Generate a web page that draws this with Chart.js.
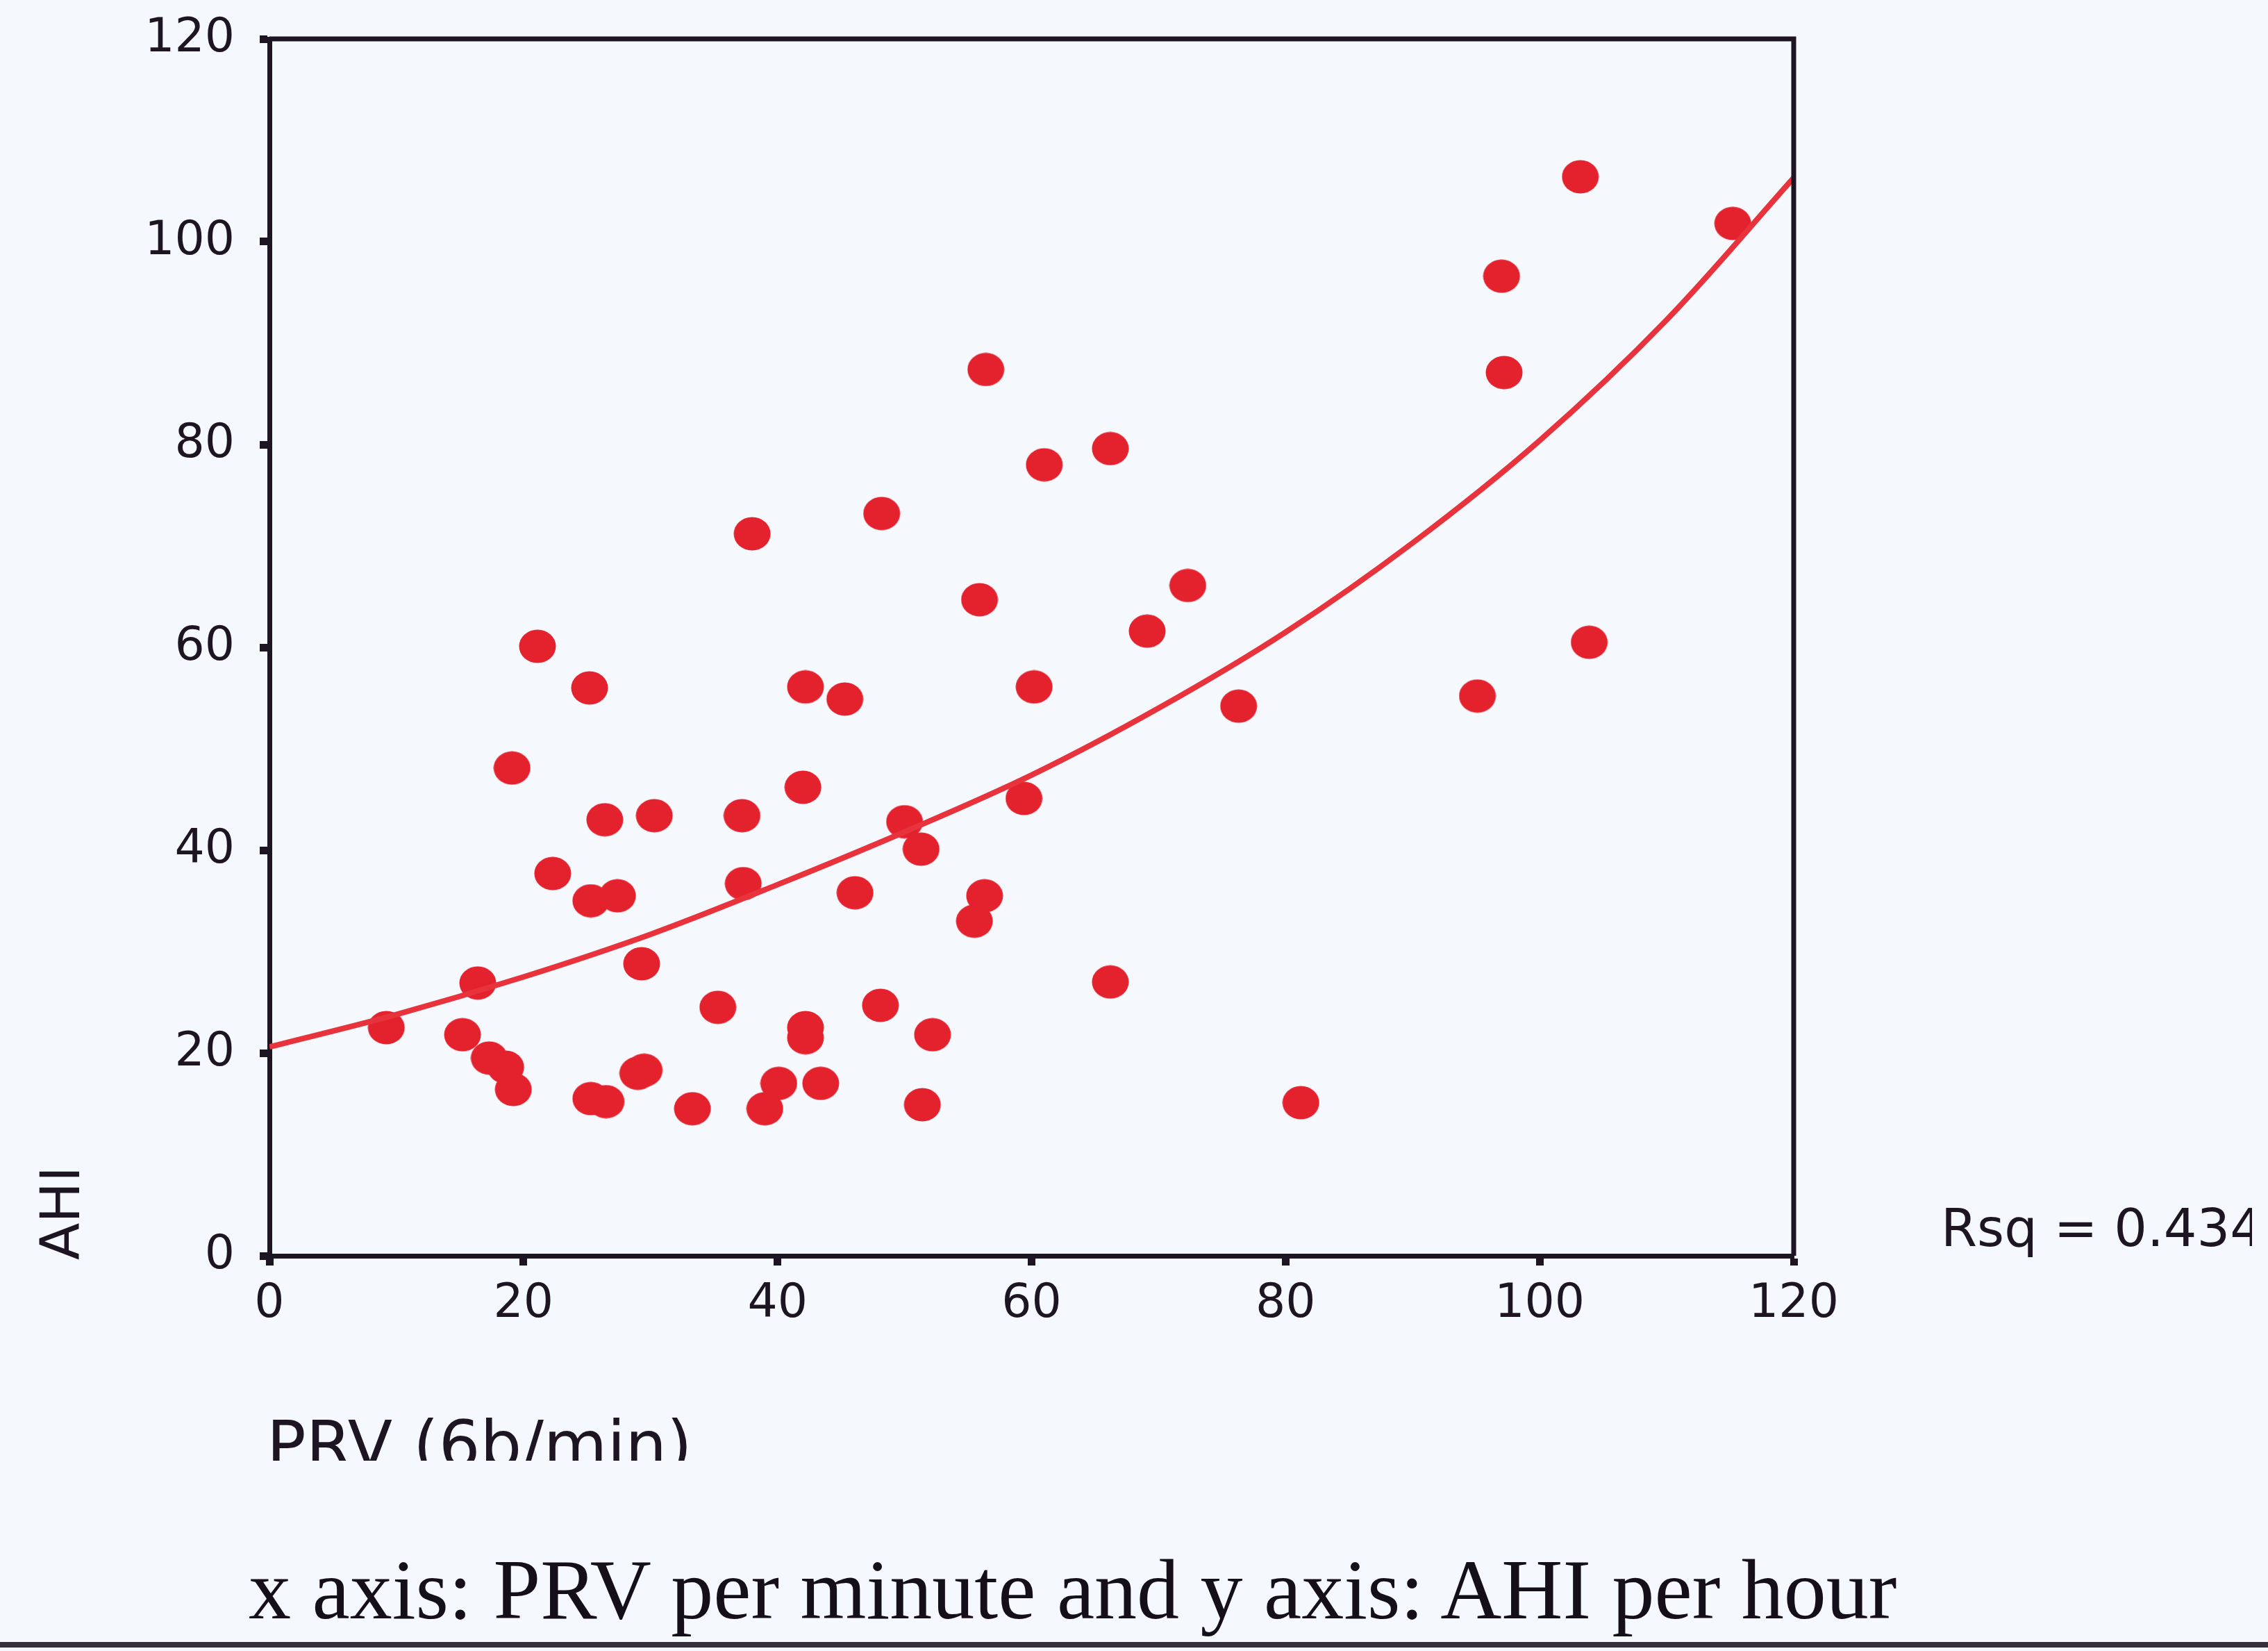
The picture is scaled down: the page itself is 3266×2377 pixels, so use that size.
<!DOCTYPE html>
<html>
<head>
<meta charset="utf-8">
<title>AHI vs PRV</title>
<script src="https://cdn.jsdelivr.net/npm/chart.js@4/dist/chart.umd.min.js"></script>
<style>
  html, body { margin: 0; padding: 0; background: #f5f8fc; }
  #wrap { position: relative; width: 3266px; height: 2377px; overflow: hidden; }
  #chart { position: absolute; left: 0; top: 0; }
  #caption {
    position: absolute; left: 358px; top: 2228px;
    font: 122px "Liberation Serif", "Times New Roman", serif; line-height: 1;
    color: #150f1a; white-space: nowrap;
  }
  #rule { position: absolute; left: 0; top: 2364px; width: 3266px; height: 8px; background: #37303c; }
</style>
</head>
<body>
<div id="wrap">
  <canvas id="chart" width="3266" height="2103"></canvas>
  <div id="caption">x axis: PRV per minute and y axis: AHI per hour</div>
  <div id="rule"></div>
</div>
<script>
// PRV (x) and AHI (y) for each patient
const prvValues = [9.2, 15.2, 16.4, 17.3, 18.6, 19.2, 19.1, 21.1, 22.3, 25.2, 25.3, 27.4, 26.4, 25.3, 26.5,
  29.0, 29.5, 29.3, 30.3, 33.3, 35.3, 37.2, 37.3, 38.0, 39.0, 40.1, 42.2, 42.2, 42.2, 42.0,
  43.4, 45.3, 46.1, 48.1, 48.2, 50.0, 51.3, 51.4, 52.2, 55.9, 55.5, 56.3, 56.4, 59.4, 60.2,
  61.0, 66.2, 66.2, 69.1, 72.3, 76.3, 81.2, 95.1, 97.0, 97.2, 103.2, 103.9, 115.2];
const ahiValues = [22.5, 21.8, 26.9, 19.5, 18.6, 16.4, 48.1, 60.1, 37.7, 56.0, 35.0, 35.5, 43.0, 15.5, 15.2,
  18.0, 18.3, 28.8, 43.4, 14.5, 24.5, 43.4, 36.7, 71.2, 14.5, 17.0, 22.5, 21.5, 56.1, 46.2,
  17.0, 54.9, 35.8, 24.7, 73.2, 42.8, 40.1, 14.9, 21.8, 64.7, 33.0, 35.5, 87.4, 45.1, 56.1,
  78.0, 79.6, 27.0, 61.6, 66.1, 54.2, 15.1, 55.2, 96.6, 87.1, 106.4, 60.5, 101.8];

// fitted curve, read at every 10 units of PRV
const curveX = [0, 10, 20, 30, 40, 50, 60, 70, 80, 90, 100, 110, 120];
const curveY = [20.6, 23.8, 27.5, 31.7, 36.6, 41.8, 47.4, 54.0, 61.5, 70.3, 80.4, 92.3, 106.3];

const xTicks = [0, 20, 40, 60, 80, 100, 120];
const yTicks = [0, 20, 40, 60, 80, 100, 120];
const rsqText = 'Rsq = 0.4344';

const RED = '#e4222e';
const INK = '#1d1521';
const FONT = '"DejaVu Sans", Arial, sans-serif';

// slightly flattened dot like the original
const dot = document.createElement('canvas');
dot.width = 54; dot.height = 49;
const dctx = dot.getContext('2d');
dctx.fillStyle = RED;
dctx.beginPath();
dctx.ellipse(27, 24.5, 26.5, 24, 0, 0, Math.PI * 2);
dctx.fill();

const points = prvValues.map((x, i) => ({ x: x, y: ahiValues[i] }));
const curve = curveX.map((x, i) => ({ x: x, y: curveY[i] }));

// frame on top/right plus the free-floating texts
const extras = {
  id: 'extras',
  afterDraw(chart) {
    const ctx = chart.ctx, a = chart.chartArea;
    ctx.save();
    ctx.strokeStyle = INK;
    ctx.lineWidth = 7;
    ctx.beginPath();
    ctx.moveTo(a.left, a.top);
    ctx.lineTo(a.right, a.top);
    ctx.lineTo(a.right, a.bottom);
    ctx.stroke();

    ctx.fillStyle = INK;
    ctx.textBaseline = 'alphabetic';
    ctx.textAlign = 'left';

    ctx.save();
    ctx.translate(114, 1814);
    ctx.rotate(-Math.PI / 2);
    ctx.font = '78px ' + FONT;
    ctx.fillText('AHI', 0, 0);
    ctx.restore();

    ctx.font = '94px ' + FONT;
    ctx.fillText('PRV (6b/min)', 384, 2113);

    ctx.beginPath();
    ctx.rect(0, 0, 3243, 2103);
    ctx.clip();
    ctx.font = '75px ' + FONT;
    ctx.fillText(rsqText, 2795, 1794);
    ctx.restore();
  }
};

new Chart(document.getElementById('chart').getContext('2d'), {
  type: 'scatter',
  data: {
    datasets: [
      { label: 'AHI', data: points, pointStyle: dot, pointRadius: 24, pointHoverRadius: 24, order: 2 },
      { label: 'fit', data: curve, showLine: true, borderColor: '#e8323c', borderWidth: 8,
        pointRadius: 0, tension: 0.35, fill: false, order: 1 }
    ]
  },
  options: {
    responsive: false,
    devicePixelRatio: 1,
    animation: false,
    events: [],
    layout: { autoPadding: false, padding: { left: 0, top: 56, right: 683, bottom: 145 } },
    plugins: { legend: { display: false }, tooltip: { enabled: false } },
    scales: {
      x: {
        type: 'linear', min: 0, max: 120,
        afterFit(s) { s.height = 150; s.paddingLeft = 0; s.paddingRight = 0; },
        afterBuildTicks(s) { s.ticks = xTicks.map(v => ({ value: v })); },
        grid: { display: true, drawOnChartArea: false, drawTicks: true, tickLength: 14, tickWidth: 11, tickColor: INK },
        border: { display: true, color: INK, width: 7 },
        ticks: { color: INK, font: { family: FONT, size: 68 }, padding: 16, maxRotation: 0 }
      },
      y: {
        type: 'linear', min: 0, max: 120,
        // keep the label overhang from pushing the plot frame down
        afterFit(s) { s.width = 388; s.paddingTop = 0; s.paddingBottom = 0; },
        afterBuildTicks(s) { s.ticks = yTicks.map(v => ({ value: v })); },
        grid: { display: true, drawOnChartArea: false, drawTicks: true, tickLength: 14, tickWidth: 11, tickColor: INK },
        border: { display: true, color: INK, width: 7 },
        ticks: { color: INK, font: { family: FONT, size: 68 }, padding: 36 }
      }
    }
  },
  plugins: [extras]
});
</script>
</body>
</html>
